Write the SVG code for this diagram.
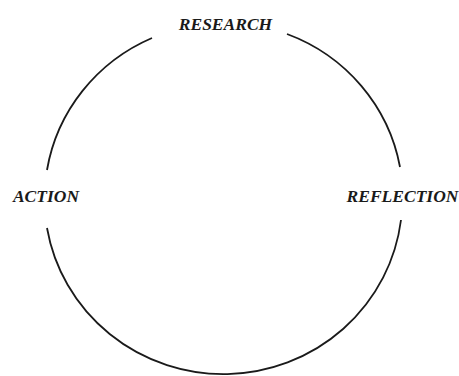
<svg xmlns="http://www.w3.org/2000/svg" width="459" height="376" viewBox="0 0 459 376">
<style>
.lbl{font-family:"Liberation Serif","Times New Roman",serif;font-weight:bold;font-style:italic;font-size:17.5px;fill:#1a1a1a;text-anchor:middle}
.arc{fill:none;stroke:#1a1a1a;stroke-width:1.8}
</style>
<rect width="459" height="376" fill="#fff"/>
<g id="connectors">
<path class="arc" d="M287,34 A179,176 0 0 1 400,167"/>
<path class="arc" d="M401,220 A179,176 0 0 1 47,228"/>
<path class="arc" d="M47,170 A179,176 0 0 1 152,38"/>
</g>
<g id="research"><text class="lbl" x="225.5" y="30">RESEARCH</text></g>
<g id="action"><text class="lbl" x="46" y="202">ACTION</text></g>
<g id="reflection"><text class="lbl" x="402.5" y="202">REFLECTION</text></g>
</svg>
